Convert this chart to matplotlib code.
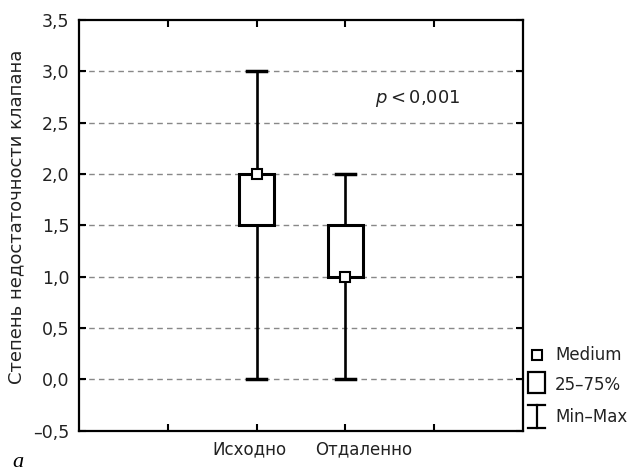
import matplotlib.pyplot as plt
from matplotlib.patches import Rectangle
from matplotlib.ticker import FuncFormatter

plt.rcParams['font.family'] = ['DejaVu Sans']

categories = ['Исходно', 'Отдаленно']
positions = [2, 3]
medians = [2.0, 1.0]
q1 = [1.5, 1.0]
q3 = [2.0, 1.5]
mins = [0.0, 0.0]
maxs = [3.0, 2.0]

box_w = 0.4
cap_w = 0.22
lw = 1.9

fig = plt.figure(figsize=(6.31, 4.75), dpi=100)
ax = fig.add_axes([0.125, 0.093, 0.704, 0.865])

for i, x in enumerate(positions):
    # усы
    ax.plot([x, x], [mins[i], q1[i]], color='black', lw=lw, zorder=3)
    ax.plot([x, x], [q3[i], maxs[i]], color='black', lw=lw, zorder=3)
    ax.plot([x - cap_w / 2, x + cap_w / 2], [mins[i], mins[i]], color='black', lw=lw + 0.6, zorder=3)
    ax.plot([x - cap_w / 2, x + cap_w / 2], [maxs[i], maxs[i]], color='black', lw=lw + 0.6, zorder=3)
    # ящик 25-75%
    ax.add_patch(Rectangle((x - box_w / 2, q1[i]), box_w, q3[i] - q1[i],
                           facecolor='white', edgecolor='black', lw=lw + 0.3, zorder=4))
    # медиана
    ax.plot(x, medians[i], marker='s', ms=7, mfc='white', mec='black', mew=1.5, zorder=5)

ax.set_xlim(0, 5)
ax.set_ylim(-0.5, 3.5)
ax.set_xticks([1, 2, 3, 4])
ax.set_xticklabels([])
# подписи в оригинале немного разнесены относительно делений
shifts = [-7, 18]
for x, name, dx in zip(positions, categories, shifts):
    ax.annotate(name, xy=(x, 0), xycoords=('data', 'axes fraction'),
                xytext=(dx, -19), textcoords='offset pixels',
                ha='center', va='center', fontsize=12, color='#222222')
ax.set_yticks([-0.5, 0, 0.5, 1.0, 1.5, 2.0, 2.5, 3.0, 3.5])
ax.yaxis.set_major_formatter(FuncFormatter(lambda v, p: f'{v:.1f}'.replace('.', ',').replace('-', '–')))
ax.tick_params(axis='y', labelsize=12.5, labelcolor='#222222')
ax.tick_params(direction='in', length=5, width=1.5, top=True, right=True, pad=7)

for y in [0, 0.5, 1.0, 1.5, 2.0, 2.5, 3.0]:
    ax.axhline(y, color='#888888', ls=(0, (4, 3)), lw=1.0, zorder=1)

for s in ax.spines.values():
    s.set_linewidth(1.6)

ax.set_ylabel('Степень недостаточности клапана', fontsize=13, color='#222222')
ax.yaxis.set_label_coords(-0.12, 0.52)
ax.text(3.33, 2.74, r'$p$' + '\u2009<\u20090,001', fontsize=13, va='center', ha='left', color='#222222')

# легенда справа от осей
ax.plot(1.031, 0.185, transform=ax.transAxes, marker='s', ms=7, mfc='white',
        mec='black', mew=1.5, clip_on=False)
ax.add_patch(Rectangle((1.012, 0.092), 0.037, 0.051, transform=ax.transAxes,
                       facecolor='white', edgecolor='black', lw=1.6, clip_on=False))
ax.plot([1.031, 1.031], [0.007, 0.063], transform=ax.transAxes, color='black', lw=1.6, clip_on=False)
ax.plot([1.012, 1.050], [0.063, 0.063], transform=ax.transAxes, color='black', lw=1.6, clip_on=False)
ax.plot([1.012, 1.050], [0.007, 0.007], transform=ax.transAxes, color='black', lw=1.6, clip_on=False)
ax.text(1.072, 0.185, 'Medium', transform=ax.transAxes, fontsize=12, va='center', color='#222222')
ax.text(1.072, 0.112, '25–75%', transform=ax.transAxes, fontsize=12, va='center', color='#222222')
ax.text(1.072, 0.034, 'Min–Max', transform=ax.transAxes, fontsize=12, va='center', color='#222222')

fig.text(0.019, 0.016, 'a', fontsize=16, style='italic', family='Liberation Serif')

fig.savefig('out.png', dpi=100)
